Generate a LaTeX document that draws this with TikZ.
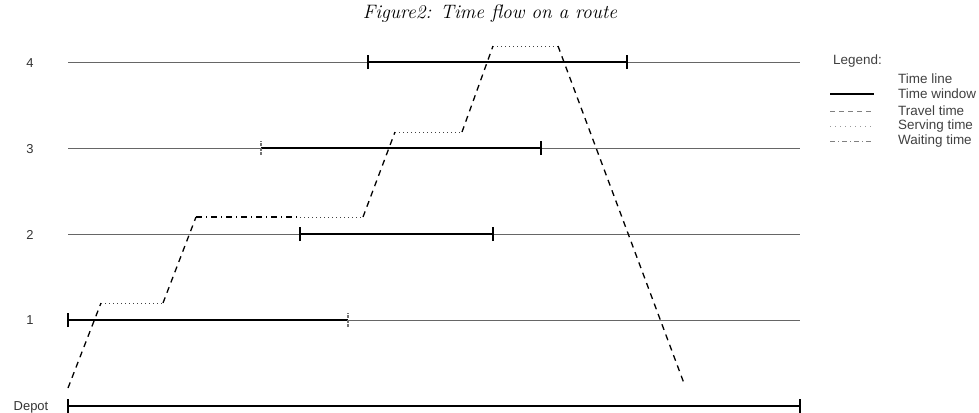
\documentclass[tikz,border=0pt]{standalone}
\usepackage{fontspec}
\setsansfont{Liberation Sans}
\begin{document}
\begin{tikzpicture}[x=1bp,y=-1bp,
  lbl/.style={font=\sffamily\fontsize{13}{15}\selectfont, text=black!80, inner sep=0pt},
  leg/.style={font=\sffamily\fontsize{13.5}{15}\selectfont, text=black!75, inner sep=0pt, anchor=west},
  timeline/.style={draw=black!60, line width=0.9bp},
  window/.style={draw=black, line width=2.6bp},
  wtick/.style={draw=black, line width=2bp},
  lighttick/.style={draw=black!55, line width=1.8bp, dash pattern=on 3bp off 1.5bp},
  travel/.style={draw=black, line width=1.3bp, dash pattern=on 6bp off 5bp},
  serving/.style={draw=black!75, line width=1bp, dash pattern=on 1bp off 3bp},
  waiting/.style={draw=black, line width=1.3bp, dash pattern=on 6bp off 4bp on 1bp off 4bp},
  legtravel/.style={draw=black!50, line width=1bp, dash pattern=on 5bp off 4bp},
  legserving/.style={draw=black!40, line width=1bp, dash pattern=on 1bp off 4bp},
  legwaiting/.style={draw=black!50, line width=1bp, dash pattern=on 5bp off 3bp on 1bp off 3bp},
]
\useasboundingbox (0,0) rectangle (979,412);

% title
\node (title) at (490,14) {\fontsize{19.5}{21}\selectfont\itshape Figure2: Time flow on a route};

% row labels
\node[lbl] (l4) at (30,63) {4};
\node[lbl] (l3) at (30,149) {3};
\node[lbl] (l2) at (30,235) {2};
\node[lbl] (l1) at (30,320) {1};
\node[lbl] (l0) at (31,407) {Depot};

% time lines
\foreach \n/\y in {4/62,3/148,2/234,1/320,0/406}{
  \coordinate (s\n) at (68,\y);
  \coordinate (e\n) at (800,\y);
  \draw[timeline] (s\n) -- (e\n);
}

% time windows
\coordinate (w0a) at (68,406);  \coordinate (w0b) at (800,406);
\coordinate (w1a) at (68,320);  \coordinate (w1b) at (348,320);
\coordinate (w2a) at (300,234); \coordinate (w2b) at (493,234);
\coordinate (w3a) at (261,148); \coordinate (w3b) at (541,148);
\coordinate (w4a) at (368,62);  \coordinate (w4b) at (627,62);
\foreach \n in {0,1,2,3,4}{
  \draw[window] (w\n a) -- (w\n b);
}
\draw[wtick] ([yshift=-7bp]w0a) -- ([yshift=7bp]w0a);
\draw[wtick] ([yshift=-7bp]w0b) -- ([yshift=7bp]w0b);
\draw[wtick] ([yshift=-7bp]w1a) -- ([yshift=7bp]w1a);
\draw[lighttick] ([yshift=-7bp]w1b) -- ([yshift=7bp]w1b);
\draw[wtick] ([yshift=-7bp]w2a) -- ([yshift=7bp]w2a);
\draw[wtick] ([yshift=-7bp]w2b) -- ([yshift=7bp]w2b);
\draw[lighttick] ([yshift=-7bp]w3a) -- ([yshift=7bp]w3a);
\draw[wtick] ([yshift=-7bp]w3b) -- ([yshift=7bp]w3b);
\draw[wtick] ([yshift=-7bp]w4a) -- ([yshift=7bp]w4a);
\draw[wtick] ([yshift=-7bp]w4b) -- ([yshift=7bp]w4b);

% route
\coordinate (r0) at (68,388);
\coordinate (r1a) at (101,303); \coordinate (r1b) at (163,303);
\coordinate (r2a) at (196,217); \coordinate (r2w) at (300,217); \coordinate (r2b) at (363,217);
\coordinate (r3a) at (395,132); \coordinate (r3b) at (462,132);
\coordinate (r4a) at (493,46);  \coordinate (r4b) at (558,46);
\coordinate (rend) at (685,386);
\draw[travel] (r0) -- (r1a);
\draw[serving] (r1a) -- (r1b);
\draw[travel] (r1b) -- (r2a);
\draw[waiting] (r2a) -- (r2w);
\draw[serving] (r2w) -- (r2b);
\draw[travel] (r2b) -- (r3a);
\draw[serving] (r3a) -- (r3b);
\draw[travel] (r3b) -- (r4a);
\draw[serving] (r4a) -- (r4b);
\draw[travel] (r4b) -- (rend);

% legend
\node[leg] (lg) at (833,61) {Legend:};
\node[leg] (lt1) at (898,79) {Time line};
\node[leg] (lt2) at (898,94) {Time window};
\node[leg] (lt3) at (898,111) {Travel time};
\node[leg] (lt4) at (898,126) {Serving time};
\node[leg] (lt5) at (898,141) {Waiting time};
\coordinate (la2) at (830,94);  \coordinate (lb2) at (874,94);
\coordinate (la3) at (830,111); \coordinate (lb3) at (874,111);
\coordinate (la4) at (830,126); \coordinate (lb4) at (874,126);
\coordinate (la5) at (830,141); \coordinate (lb5) at (874,141);
\draw[draw=black, line width=2bp] (la2) -- (lb2);
\draw[legtravel] (la3) -- (lb3);
\draw[legserving] (la4) -- (lb4);
\draw[legwaiting] (la5) -- (lb5);
\end{tikzpicture}
\end{document}
